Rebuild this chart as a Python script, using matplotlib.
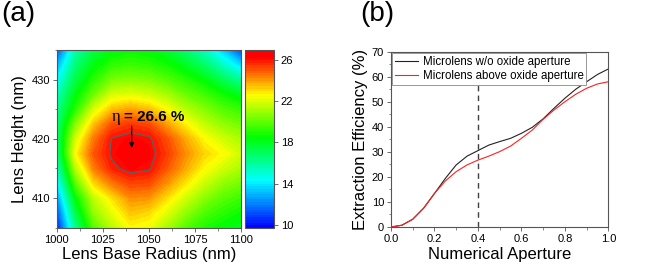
import numpy as np
import matplotlib
matplotlib.use("Agg")
import matplotlib.pyplot as plt
from matplotlib.colors import LinearSegmentedColormap, Normalize
from matplotlib.ticker import MultipleLocator, FormatStrFormatter

plt.rcParams["font.family"] = ["Liberation Sans", "DejaVu Sans"]

# (a) extraction efficiency map
radius = [1000, 1010, 1020, 1030, 1040, 1050, 1060, 1070, 1080, 1090, 1100]
height = [405, 407.5, 410, 412.5, 415, 417.5, 420, 422.5, 425, 427.5, 430, 432.5, 435]
eff_map = [
    [10.0, 16.0, 19.8, 21.4, 22.6, 22.3, 21.1, 19.8, 18.9, 18.4, 18.0],
    [11.0, 17.2, 20.8, 22.2, 23.4, 23.1, 22.0, 20.8, 19.7, 19.1, 18.6],
    [12.3, 18.3, 21.5, 23.0, 24.2, 24.1, 23.0, 21.8, 20.7, 19.9, 19.4],
    [13.8, 19.8, 23.1, 24.5, 25.3, 25.2, 24.1, 22.9, 21.7, 20.8, 20.3],
    [15.1, 21.3, 24.4, 25.8, 26.3, 26.1, 25.0, 23.8, 22.6, 21.8, 21.2],
    [16.2, 22.5, 25.0, 26.15, 26.6, 26.35, 25.4, 24.2, 23.2, 22.6, 21.8],
    [16.5, 21.8, 24.5, 26.05, 26.35, 26.15, 25.1, 23.8, 22.6, 21.8, 21.2],
    [16.4, 20.5, 23.4, 25.1, 25.5, 25.2, 23.9, 22.7, 21.6, 20.8, 20.3],
    [16.0, 19.0, 21.9, 23.5, 23.9, 23.5, 22.5, 21.4, 20.6, 19.8, 19.3],
    [15.3, 18.2, 20.2, 21.9, 22.1, 21.8, 21.1, 20.2, 19.5, 18.7, 17.9],
    [14.2, 17.3, 19.1, 20.4, 20.6, 20.4, 19.8, 19.1, 18.3, 17.1, 16.0],
    [12.8, 16.5, 18.2, 19.2, 19.4, 19.2, 18.7, 17.9, 16.8, 15.3, 13.6],
    [11.0, 15.5, 17.4, 18.2, 18.5, 18.3, 17.7, 16.6, 15.3, 13.4, 11.0],
]
peak_label = "= 26.6 %"

# (b) extraction efficiency vs numerical aperture
na = [0.0, 0.05, 0.1, 0.15, 0.2, 0.25, 0.3, 0.35, 0.4, 0.45, 0.5,
      0.55, 0.6, 0.65, 0.7, 0.75, 0.8, 0.85, 0.9, 0.95, 1.0]
eff_no_oxide = [0.0, 0.7, 3.1, 7.5, 13.4, 19.4, 24.8, 28.3, 30.5, 32.7, 34.1,
                35.4, 37.4, 39.8, 43.2, 47.4, 51.4, 55.0, 58.0, 60.9, 63.1]
eff_oxide = [0.0, 0.7, 3.1, 7.5, 13.4, 18.4, 22.1, 24.8, 26.7, 28.3, 30.1,
             32.3, 35.4, 38.7, 43.0, 46.7, 50.0, 53.0, 55.4, 57.1, 58.0]

spine_col = "#555555"

# origin-like rainbow palette
vmin, vmax = 9.7, 27.0
anchors = [9.7, 14.3, 18.5, 22.6, 26.3, 27.0]
cols = ["#0000ff", "#00ffff", "#00ff00", "#ffff00", "#ff0000", "#ff0000"]
cmap = LinearSegmentedColormap.from_list(
    "rainbow_origin", [((a - vmin) / (vmax - vmin), c) for a, c in zip(anchors, cols)])

fig = plt.figure(figsize=(6.54, 2.71), dpi=100)
ax1 = fig.add_axes([0.0867, 0.1598, 0.2818, 0.6557])
cax = fig.add_axes([0.3746, 0.1598, 0.0443, 0.6557])
ax2 = fig.add_axes([0.5979, 0.1624, 0.3323, 0.6469])

# ---- panel (a)
levels = np.linspace(vmin, vmax, 70)
cf = ax1.contourf(radius, height, eff_map, levels=levels, cmap=cmap,
                  norm=Normalize(vmin, vmax))
ax1.contour(radius, height, eff_map, levels=[26.0], colors="#606060", linewidths=1.0)
ax1.set_xlim(1000, 1100)
ax1.set_ylim(405, 435)
ax1.set_xticks([1000, 1025, 1050, 1075, 1100])
ax1.set_yticks([410, 420, 430])
ax1.xaxis.set_minor_locator(MultipleLocator(12.5))
ax1.yaxis.set_minor_locator(MultipleLocator(5))
ax1.set_xlabel("Lens Base Radius (nm)", fontsize=12, labelpad=2)
ax1.set_ylabel("Lens Height (nm)", fontsize=12, labelpad=3)

ax1.annotate("", xy=(1040.7, 418.0), xytext=(1040.7, 422.6),
             arrowprops=dict(arrowstyle="-|>", color="k", lw=0.8, mutation_scale=7))
ax1.text(1029.6, 423.0, "\u03b7", fontsize=12, family=["Liberation Serif", "DejaVu Serif"],
         ha="left", va="baseline")
ax1.text(1036.6, 423.0, peak_label, fontsize=11, fontweight="bold", ha="left", va="baseline")

cb = fig.colorbar(cf, cax=cax, ticks=[10, 14, 18, 22, 26])
cb.outline.set_edgecolor(spine_col)
cb.outline.set_linewidth(0.8)
cax.tick_params(labelsize=8, length=3, width=0.6, color=spine_col, pad=2)
cax.minorticks_off()

# ---- panel (b)
ax2.axvline(0.4, color="#404040", lw=1.0, dashes=(4, 3), zorder=1)
ax2.plot(na, eff_no_oxide, color="#222222", lw=0.8, label="Microlens w/o oxide aperture")
ax2.plot(na, eff_oxide, color="#ff2020", lw=0.8, label="Microlens above oxide aperture")
ax2.set_xlim(0, 1)
ax2.set_ylim(0, 70)
ax2.xaxis.set_major_locator(MultipleLocator(0.2))
ax2.xaxis.set_minor_locator(MultipleLocator(0.1))
ax2.yaxis.set_major_locator(MultipleLocator(10))
ax2.yaxis.set_minor_locator(MultipleLocator(5))
ax2.xaxis.set_major_formatter(FormatStrFormatter("%.1f"))
ax2.set_xlabel("Numerical Aperture", fontsize=12, labelpad=2)
ax2.set_ylabel("Extraction Efficiency (%)", fontsize=12, labelpad=3)
leg = ax2.legend(loc="upper left", fontsize=8.3, borderaxespad=0.1, fancybox=False,
                 handlelength=2.0, handletextpad=0.4, borderpad=0.25, labelspacing=0.2,
                 framealpha=1)
leg.get_frame().set_edgecolor("#888888")
leg.get_frame().set_linewidth(0.6)

for ax in (ax1, ax2):
    for s in ax.spines.values():
        s.set_edgecolor(spine_col)
        s.set_linewidth(0.8)
    ax.tick_params(which="major", direction="out", length=3, width=0.6, color=spine_col,
                   labelsize=8, pad=2)
    ax.tick_params(which="minor", direction="out", length=1.8, width=0.5, color=spine_col)

fig.text(0.002, 0.995, "(a)", fontsize=20, ha="left", va="top")
fig.text(0.551, 0.995, "(b)", fontsize=20, ha="left", va="top")

fig.savefig("out.png", dpi=100)
